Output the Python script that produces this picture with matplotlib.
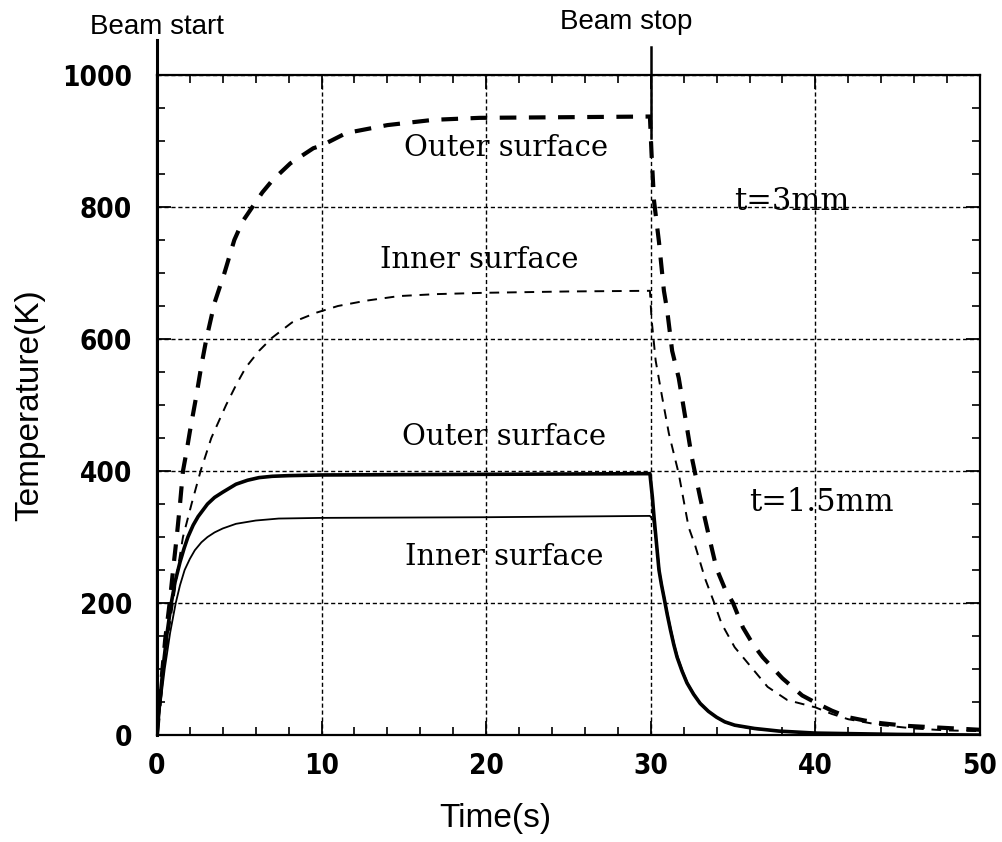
import matplotlib
matplotlib.use('Agg')
import matplotlib.pyplot as plt
from matplotlib.ticker import MultipleLocator

# t = 3 mm, outer surface (thick dashed)
t3_out_time = [0, 0.15, 0.3, 0.5, 0.77, 1.0, 1.2, 1.4, 1.58, 1.8, 2.0, 2.4, 2.7, 3.0, 3.5,
               4.1, 4.7, 5.2, 5.8, 6.4, 7.0, 8.1, 9.5,
               10, 11.5, 14, 16.8, 19.6, 25, 29.95,
               30.05, 30.2, 30.5, 30.8, 31.0, 31.3, 31.7, 32.1, 32.5, 33.0, 33.5, 34.0,
               34.5, 35.0, 35.6, 36.2, 36.8, 38.0, 39.2, 40.1, 41, 42, 43, 44, 45.5, 47, 50]
t3_out_temp = [0, 45, 90, 145, 200, 255, 300, 350, 400, 430, 460, 515, 560, 600, 655,
               700, 750, 778, 800, 822, 840, 866, 889,
               893, 912, 924, 932, 935, 936, 937,
               880, 809, 747, 673, 643, 582, 541, 481, 420, 360, 305, 252,
               222, 200, 163, 138, 118, 86, 60, 48, 37, 27, 22, 18, 14, 12, 8]

# t = 3 mm, inner surface (thin dashed)
t3_in_time = [0, 0.2, 0.4, 0.7, 0.97, 1.25, 1.58, 2.1, 2.65, 3.3, 4.2, 4.8, 5.4, 6.2, 7.0,
              8.2, 9.7, 11, 12.7, 14.7, 17, 20, 25, 29.95,
              30.05, 30.3, 30.7, 31.1, 31.7, 32.3, 32.7, 33.3, 33.8, 34.3, 35.1, 36.1,
              37.1, 38.3, 40, 41, 42, 44, 46, 48, 50]
t3_in_temp = [0, 50, 100, 155, 200, 250, 300, 350, 400, 450, 500, 530, 557, 582, 602,
              625, 640, 650, 658, 665, 668, 670, 672, 673,
              630, 567, 511, 457, 396, 315, 287, 237, 204, 169, 133, 103,
              73, 53, 42, 32, 24, 15, 10, 7, 6]

# t = 1.5 mm, outer surface (thick solid)
t15_out_time = [0, 0.15, 0.36, 0.6, 0.87, 1.1, 1.4, 1.65, 1.88, 2.2, 2.5, 2.8, 3.07, 3.5,
                4.0, 4.8, 5.5, 6.2, 7, 8, 10, 20, 29.95,
                30.1, 30.2, 30.35, 30.5, 30.65, 30.8, 31.0, 31.2, 31.4, 31.6, 31.9, 32.2,
                32.6, 33.0, 33.5, 34.0, 34.5, 35.1, 36.3, 37.8, 40, 45, 50]
t15_out_temp = [0, 45, 100, 152, 200, 232, 262, 283, 300, 318, 331, 341, 350, 360,
                368, 380, 386, 390, 392, 393, 394, 395, 396,
                360, 330, 290, 250, 228, 209, 183, 159, 137, 118, 97, 79,
                62, 48, 36, 27, 20, 15, 10, 6, 3, 1, 0]

# t = 1.5 mm, inner surface (thin solid)
t15_in_time = [0, 0.2, 0.47, 0.8, 1.14, 1.4, 1.68, 2.0, 2.3, 2.7, 3.07, 3.5, 4.0, 4.8,
               6.0, 7.4, 10, 20, 29.95,
               30.15, 30.3, 30.4, 30.55, 30.7, 30.85, 31.05, 31.25, 31.45, 31.65, 31.95,
               32.25, 32.65, 33.05, 33.55, 34.05, 34.55, 35.2, 36.4, 37.9, 40, 45, 50]
t15_in_temp = [0, 45, 100, 155, 200, 227, 250, 267, 280, 292, 300, 307, 313, 320,
               325, 328, 329, 330, 332,
               326, 300, 280, 245, 224, 205, 180, 157, 135, 117, 96,
               78, 61, 47, 35, 26, 19, 14, 9, 6, 3, 1, 0]

beam_start = 0
beam_stop = 30

x_ticks = [0, 10, 20, 30, 40, 50]
y_ticks = [0, 200, 400, 600, 800, 1000]

label_font = ['Liberation Sans', 'DejaVu Sans']
note_font = ['DejaVu Serif']

fig = plt.figure(figsize=(10.03, 8.42), dpi=100)
ax = fig.add_axes([0.1565, 0.127, 0.8205, 0.784])

ax.plot(t3_out_time, t3_out_temp, color='black', lw=3.0, ls=(0, (4, 3)))
ax.plot(t3_in_time, t3_in_temp, color='black', lw=1.4, ls=(0, (5, 4)))
ax.plot(t15_out_time, t15_out_temp, color='black', lw=2.6, solid_joinstyle='round')
ax.plot(t15_in_time, t15_in_temp, color='black', lw=1.3, solid_joinstyle='round')

ax.set_xlim(0, 50)
ax.set_ylim(0, 1000)
ax.set_xticks(x_ticks)
ax.set_yticks(y_ticks)
ax.xaxis.set_minor_locator(MultipleLocator(2))
ax.yaxis.set_minor_locator(MultipleLocator(50))
ax.tick_params(which='both', direction='in', top=True, right=True, color='black')
ax.tick_params(which='major', length=10, width=1.3)
ax.tick_params(which='minor', length=6, width=1.2)
ax.tick_params(axis='x', which='major', pad=12)
ax.tick_params(axis='y', which='major', pad=18)
for lab in ax.get_xticklabels() + ax.get_yticklabels():
    lab.set_family('DejaVu Sans')
    lab.set_stretch('condensed')
    lab.set_fontsize(20)
    lab.set_fontweight('bold')

for side in ['left', 'right', 'top', 'bottom']:
    ax.spines[side].set_linewidth(1.6)

ax.grid(True, which='major', color='black', lw=1.0, ls=(0, (3, 2)))

# beam markers
ax.axvline(beam_start, ymin=0, ymax=1.053, color='black', lw=2.2, clip_on=False)
ax.axvline(beam_stop, ymin=0.905, ymax=1.042, color='black', lw=1.8, clip_on=False)
ax.text(beam_start, 1.062, 'Beam start', transform=ax.get_xaxis_transform(),
        ha='center', va='baseline', fontsize=20, family=label_font)
ax.text(beam_stop - 1.5, 1.07, 'Beam stop', transform=ax.get_xaxis_transform(),
        ha='center', va='baseline', fontsize=20, family=label_font)

# curve annotations
ax.text(21.2, 889, 'Outer surface', ha='center', va='center', fontsize=21, family=note_font)
ax.text(19.6, 719, 'Inner surface', ha='center', va='center', fontsize=21, family=note_font)
ax.text(21.1, 451, 'Outer surface', ha='center', va='center', fontsize=21, family=note_font)
ax.text(21.1, 269, 'Inner surface', ha='center', va='center', fontsize=21, family=note_font)
ax.text(38.6, 808, 't=3mm', ha='center', va='center', fontsize=22, family=note_font)
ax.text(40.4, 352, 't=1.5mm', ha='center', va='center', fontsize=22, family=note_font)

ax.set_xlabel('Time(s)', fontsize=24, family=label_font)
ax.set_ylabel('Temperature(K)', fontsize=24, family=label_font)
ax.xaxis.label.set_va('center')
ax.yaxis.label.set_va('center')
ax.xaxis.set_label_coords(0.411, -0.126)
ax.yaxis.set_label_coords(-0.154, 0.5)

fig.savefig('out.png', dpi=100)
